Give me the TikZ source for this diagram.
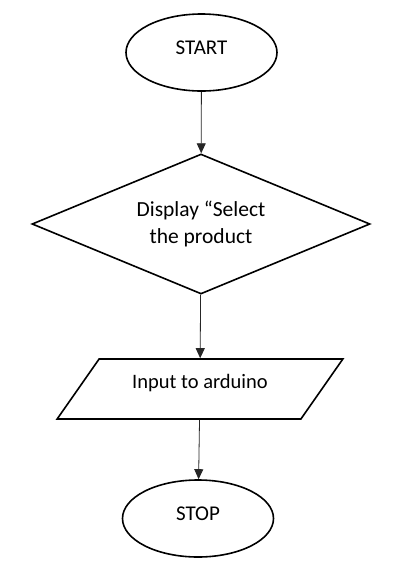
\documentclass[tikz,border=0pt]{standalone}
\usepackage{fontspec}
\setmainfont{Carlito}
\usetikzlibrary{shapes.geometric,arrows.meta}
\tikzset{term/.style={ellipse, draw=black, line width=1.6pt, minimum width=151pt, minimum height=77pt, inner sep=0pt, text depth=9pt, font=\fontsize{21}{25}\selectfont},
%decision box, wide and flat
decide/.style={diamond, draw=black, line width=1.6pt, aspect=2.41, minimum width=338pt, minimum height=140pt, inner sep=0pt, align=center, font=\fontsize{21.5}{27}\selectfont},
inout/.style={trapezium, trapezium left angle=47, trapezium right angle=133, trapezium stretches, draw=black, line width=1.6pt, minimum width=286pt, minimum height=60pt, inner sep=0pt, text depth=16pt, font=\fontsize{20.5}{25}\selectfont},
flow/.style={draw=black!85, line width=0.8pt, -{Triangle[length=10pt,width=9pt]}}}

\begin{document}
\begin{tikzpicture}[x=1pt,y=-1pt]
\useasboundingbox (0,0) rectangle (400,574);

\node[term] (start) at (201.5,52.5) {START};
\node[decide] (disp) at (201,224) {Display “Select\\the product};
\node[inout] (inp) at (200,389) {Input to arduino};
\node[term] (stop) at (198,518.5) {STOP};

\draw[flow] (start) -- (disp);
\draw[flow] (disp) -- (inp);
\draw[flow] (inp) -- (stop);
\end{tikzpicture}
\end{document}
